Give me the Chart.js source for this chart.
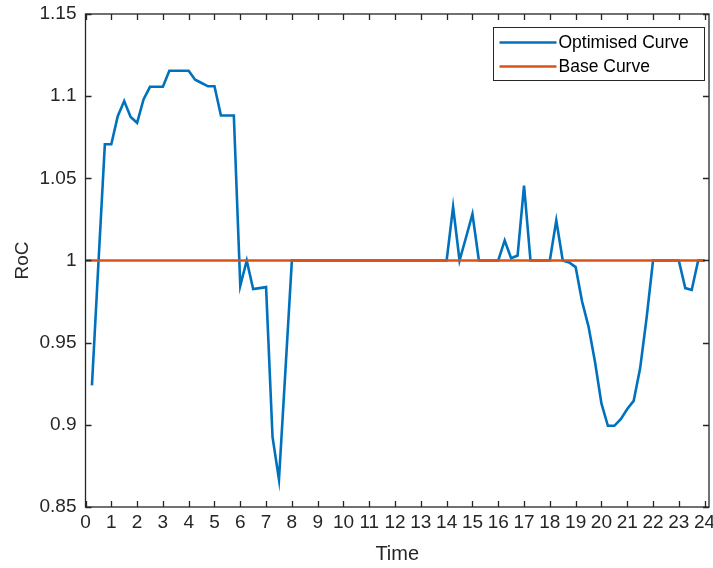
<!DOCTYPE html>
<html>
<head>
<meta charset="utf-8">
<script src="https://cdn.jsdelivr.net/npm/chart.js@4/dist/chart.umd.min.js"></script>
<style>
  html, body { margin: 0; padding: 0; background: #ffffff; }
  #wrap { width: 713px; height: 568px; }
</style>
</head>
<body>
<div id="wrap"><canvas id="roc" width="713" height="568"></canvas></div>
<script>
// Time of day in hours, quarter-hour resolution
const hours = [
  0, 0.25, 0.5, 0.75, 1, 1.25, 1.5, 1.75, 2, 2.25, 2.5, 2.75,
  3, 3.25, 3.5, 3.75, 4, 4.25, 4.5, 4.75, 5, 5.25, 5.5, 5.75,
  6, 6.25, 6.5, 6.75, 7, 7.25, 7.5, 7.75, 8, 8.25, 8.5, 8.75,
  9, 9.25, 9.5, 9.75, 10, 10.25, 10.5, 10.75, 11, 11.25, 11.5, 11.75,
  12, 12.25, 12.5, 12.75, 13, 13.25, 13.5, 13.75, 14, 14.25, 14.5, 14.75,
  15, 15.25, 15.5, 15.75, 16, 16.25, 16.5, 16.75, 17, 17.25, 17.5, 17.75,
  18, 18.25, 18.5, 18.75, 19, 19.25, 19.5, 19.75, 20, 20.25, 20.5, 20.75,
  21, 21.25, 21.5, 21.75, 22, 22.25, 22.5, 22.75, 23, 23.25, 23.5, 23.75,
  24
];

// Rate of change for the optimised schedule (no value at midnight)
const optimisedRoC = [
  null,   0.924,  0.998,  1.0707,
  1.0707, 1.0878, 1.097,  1.0874,
  1.0838, 1.098,  1.1057, 1.1057,
  1.1057, 1.1155, 1.1155, 1.1155,
  1.1155, 1.110,  1.108,  1.106,
  1.106,  1.0882, 1.0882, 1.0882,
  0.9846, 1.0,    0.9826, 0.9832,
  0.9838, 0.8927, 0.8667, 0.933,
  1, 1, 1, 1,
  1, 1, 1, 1,
  1, 1, 1, 1,
  1, 1, 1, 1,
  1, 1, 1, 1,
  1, 1, 1, 1,
  1,      1.0326, 1.0,    1.014,
  1.0283, 1,      1,      1,
  1,      1.0122, 1.0014, 1.003,
  1.0455, 1,      1,      1,
  1,      1.0244, 1,      0.9988,
  0.996,  0.975,  0.9598, 0.9384,
  0.913,  0.8994, 0.8994, 0.9035,
  0.9096, 0.9146, 0.9344, 0.9649,
  1, 1, 1, 1,
  1,      0.9832, 0.9821, 1,
  1
];

// Base curve: constant reference over the day
const baseHours = [0, 24];
const baseRoC = [1, 1];

const xTickValues = [0,1,2,3,4,5,6,7,8,9,10,11,12,13,14,15,16,17,18,19,20,21,22,23,24];
const yTickValues = [0.85, 0.9, 0.95, 1, 1.05, 1.1, 1.15];
const yTickLabels = ['0.85', '0.9', '0.95', '1', '1.05', '1.1', '1.15'];

const seriesNames = ['Optimised Curve', 'Base Curve'];
const seriesColors = ['#0072BD', '#D95319'];

const FONT = '"Liberation Sans", Arial, Helvetica, sans-serif';
const AXIS_COLOR = '#262626';

// Axes box with inward-pointing tick marks on all four sides
const axesFrame = {
  id: 'axesFrame',
  afterDatasetsDraw(chart) {
    const { ctx, chartArea: a, scales: { x, y } } = chart;
    const len = 6;
    ctx.save();
    ctx.strokeStyle = AXIS_COLOR;
    ctx.lineWidth = 1.3;
    ctx.beginPath();
    xTickValues.forEach(v => {
      const px = Math.round(x.getPixelForValue(v)) + 0.5;
      ctx.moveTo(px, a.bottom); ctx.lineTo(px, a.bottom - len);
      ctx.moveTo(px, a.top); ctx.lineTo(px, a.top + len);
    });
    yTickValues.forEach(v => {
      const py = Math.round(y.getPixelForValue(v)) + 0.5;
      ctx.moveTo(a.left, py); ctx.lineTo(a.left + len, py);
      ctx.moveTo(a.right, py); ctx.lineTo(a.right - len, py);
    });
    ctx.stroke();
    ctx.strokeRect(a.left, a.top, a.right - a.left, a.bottom - a.top);
    ctx.restore();
  }
};

// Boxed legend in the top-right corner of the plot area
const boxLegend = {
  id: 'boxLegend',
  afterDraw(chart) {
    const { ctx, chartArea: a } = chart;
    const w = 211, h = 53;
    const bx = Math.round(a.right - 5 - w) + 0.5;
    const by = Math.round(a.top + 13) + 0.5;
    ctx.save();
    ctx.fillStyle = '#ffffff';
    ctx.fillRect(bx, by, w, h);
    ctx.strokeStyle = AXIS_COLOR;
    ctx.lineWidth = 1;
    ctx.strokeRect(bx, by, w, h);
    ctx.font = '17.5px ' + FONT;
    ctx.textBaseline = 'middle';
    ctx.textAlign = 'left';
    chart.data.datasets.forEach((ds, i) => {
      const ly = by + 15 + i * 24;
      ctx.strokeStyle = ds.borderColor;
      ctx.lineWidth = 2.6;
      ctx.beginPath();
      ctx.moveTo(bx + 6, ly);
      ctx.lineTo(bx + 63, ly);
      ctx.stroke();
      ctx.fillStyle = '#000000';
      ctx.fillText(ds.label, bx + 65, ly + 1);
    });
    ctx.restore();
  }
};

new Chart(document.getElementById('roc'), {
  type: 'line',
  data: {
    datasets: [
      {
        label: seriesNames[0],
        data: hours.map((h, i) => ({ x: h, y: optimisedRoC[i] })),
        borderColor: seriesColors[0],
        borderWidth: 2.6,
        pointRadius: 0,
        tension: 0,
        fill: false,
        order: 1
      },
      {
        label: seriesNames[1],
        data: baseHours.map((h, i) => ({ x: h, y: baseRoC[i] })),
        borderColor: seriesColors[1],
        borderWidth: 2.6,
        pointRadius: 0,
        tension: 0,
        fill: false,
        order: 0
      }
    ]
  },
  options: {
    responsive: false,
    animation: false,
    devicePixelRatio: 1,
    layout: { padding: { top: 14, right: 4, left: 0, bottom: 0 } },
    plugins: { legend: { display: false }, tooltip: { enabled: false } },
    scales: {
      x: {
        type: 'linear',
        min: 0,
        max: 24.17,
        grid: { display: false, drawTicks: false },
        border: { display: false },
        afterBuildTicks: s => { s.ticks = xTickValues.map(v => ({ value: v })); },
        ticks: {
          color: AXIS_COLOR,
          font: { family: FONT, size: 19 },
          padding: 4,
          autoSkip: false,
          maxRotation: 0,
          minRotation: 0,
          callback: v => String(v)
        },
        title: {
          display: true,
          text: 'Time',
          color: AXIS_COLOR,
          font: { family: FONT, size: 20 },
          padding: { top: 0, bottom: 2 }
        },
        afterFit: s => { s.height = 61; s.paddingLeft = 0; s.paddingRight = 0; }
      },
      y: {
        type: 'linear',
        min: 0.85,
        max: 1.15,
        grid: { display: false, drawTicks: false },
        border: { display: false },
        afterBuildTicks: s => { s.ticks = yTickValues.map(v => ({ value: v })); },
        ticks: {
          color: AXIS_COLOR,
          font: { family: FONT, size: 19 },
          padding: 9,
          autoSkip: false,
          callback: (v, i) => yTickLabels[i]
        },
        title: {
          display: true,
          text: 'RoC',
          color: AXIS_COLOR,
          font: { family: FONT, size: 19 },
          padding: { top: 11, bottom: 0 }
        },
        afterFit: s => { s.width = 85.5; s.paddingTop = 0; s.paddingBottom = 0; }
      }
    }
  },
  plugins: [axesFrame, boxLegend]
});
</script>
</body>
</html>
